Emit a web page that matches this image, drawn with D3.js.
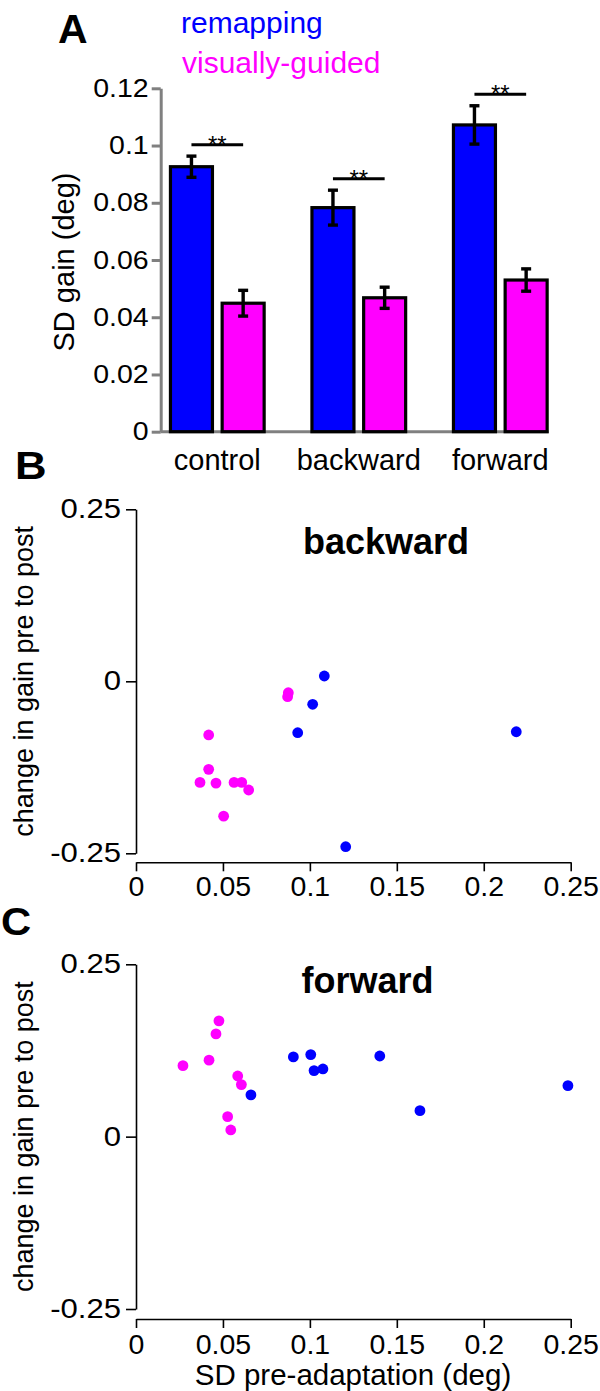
<!DOCTYPE html>
<html><head><meta charset="utf-8">
<script src="https://cdn.jsdelivr.net/npm/d3@7"></script>
<style>
html,body{margin:0;padding:0;background:#fff;}
svg{display:block;font-family:"Liberation Sans",Arial,Helvetica,sans-serif;}
</style></head>
<body>
<svg id="chart" width="600" height="1391"></svg>
<script>
// ---------- DATA ----------
const barCategories = ["control", "backward", "forward"];
const seriesNames = ["remapping", "visually-guided"];
const remapMean = [0.0926, 0.0783, 0.1072];
const remapErr = [0.0037, 0.0061, 0.0067];
const visualMean = [0.0449, 0.0468, 0.0530];
const visualErr = [0.0045, 0.0037, 0.0039];
const sigLabels = ["**", "**", "**"];
const barTicks = [0, 0.02, 0.04, 0.06, 0.08, 0.1, 0.12];

const scatterXTicks = [0, 0.05, 0.1, 0.15, 0.2, 0.25];
const scatterYTicks = [-0.25, 0, 0.25];

const backwardRemapX = [0.1083, 0.1016, 0.0930, 0.2187, 0.1206];
const backwardRemapY = [0.0077, -0.0334, -0.0747, -0.0733, -0.2404];
const backwardVisualX = [0.0876, 0.0872, 0.0418, 0.0418, 0.0368, 0.0460, 0.0564, 0.0608, 0.0648, 0.0504];
const backwardVisualY = [-0.0166, -0.0224, -0.0780, -0.1280, -0.1470, -0.1480, -0.1470, -0.1470, -0.1580, -0.1960];

const forwardRemapX = [0.0661, 0.0905, 0.1005, 0.1024, 0.1075, 0.1402, 0.1633, 0.2484];
const forwardRemapY = [0.0605, 0.1157, 0.1190, 0.0958, 0.0982, 0.1170, 0.0377, 0.0740];
const forwardVisualX = [0.0477, 0.0460, 0.0420, 0.0270, 0.0585, 0.0606, 0.0527, 0.0545];
const forwardVisualY = [0.1680, 0.1490, 0.1110, 0.1030, 0.0880, 0.0755, 0.0290, 0.0097];

// ---------- STYLE ----------
const BLUE = "#0000ff", MAG = "#ff00ff", GREY = "#808080";
const svg = d3.select("#chart");

function stretch(sel, f) {
  sel.each(function () {
    const L = this.getComputedTextLength();
    this.setAttribute("textLength", L * f);
    this.setAttribute("lengthAdjust", "spacingAndGlyphs");
  });
}
const fmt = d => (d === 0 ? "0" : String(d));

// ---------- PANEL A ----------
const yA = d3.scaleLinear().domain([0, 0.12]).range([431.7, 88.3]);
const xA = d3.scalePoint().domain(barCategories).range([217.3, 500.3]);
const xSub = d3.scaleBand().domain(seriesNames).range([-46.85, 46.85]).paddingInner(0.1876);
const axisXA = 160.7;

const barRows = barCategories.map((c, i) => ({
  cat: c,
  vals: [
    { s: seriesNames[0], v: remapMean[i], e: remapErr[i], color: BLUE },
    { s: seriesNames[1], v: visualMean[i], e: visualErr[i], color: MAG }
  ],
  sig: sigLabels[i]
}));

// y axis (grey)
const gAy = svg.append("g").attr("transform", `translate(${axisXA},0)`)
  .call(d3.axisLeft(yA).tickValues(barTicks).tickFormat(fmt).tickSize(9).tickPadding(3).tickSizeOuter(0));
gAy.select(".domain").attr("stroke", GREY).attr("stroke-width", 3);
gAy.selectAll(".tick line").attr("stroke", GREY).attr("stroke-width", 3);
gAy.selectAll(".tick text").attr("font-size", 25).attr("fill", "#000").style("font-family", "'Liberation Sans',Arial,sans-serif");
stretch(gAy.selectAll(".tick text"), 1.14);

// x baseline (grey)
svg.append("line")
  .attr("x1", axisXA).attr("x2", xA(barCategories[barCategories.length - 1]) + xSub.range()[1] + 1.5)
  .attr("y1", yA(0)).attr("y2", yA(0))
  .attr("stroke", GREY).attr("stroke-width", 3);

// bars
const groups = svg.append("g").selectAll("g").data(barRows).join("g")
  .attr("transform", d => `translate(${xA(d.cat)},0)`);
groups.selectAll("rect").data(d => d.vals).join("rect")
  .attr("x", d => xSub(d.s)).attr("width", xSub.bandwidth())
  .attr("y", d => yA(d.v)).attr("height", d => yA(0) - yA(d.v))
  .attr("fill", d => d.color).attr("stroke", "#000").attr("stroke-width", 3.2);

// error bars
const eb = groups.selectAll("g.err").data(d => d.vals).join("g").attr("class", "err")
  .attr("transform", d => `translate(${xSub(d.s) + xSub.bandwidth() / 2},0)`);
eb.append("line").attr("x1", 0).attr("x2", 0)
  .attr("y1", d => yA(d.v + d.e)).attr("y2", d => yA(d.v - d.e))
  .attr("stroke", "#000").attr("stroke-width", 3.4);
eb.append("line").attr("x1", -5).attr("x2", 5)
  .attr("y1", d => yA(d.v + d.e)).attr("y2", d => yA(d.v + d.e))
  .attr("stroke", "#000").attr("stroke-width", 3.4);
eb.append("line").attr("x1", -5).attr("x2", 5)
  .attr("y1", d => yA(d.v - d.e)).attr("y2", d => yA(d.v - d.e))
  .attr("stroke", "#000").attr("stroke-width", 3.4);

// significance lines
groups.each(function (d) {
  const g = d3.select(this);
  const top = d3.max(d.vals, v => v.v + v.e) + 0.004;
  const xa = xSub(d.vals[0].s) + xSub.bandwidth() / 2;
  const xb = xSub(d.vals[1].s) + xSub.bandwidth() / 2;
  g.append("line").attr("x1", xa).attr("x2", xb).attr("y1", yA(top)).attr("y2", yA(top))
    .attr("stroke", "#000").attr("stroke-width", 3);
  g.append("text").attr("x", (xa + xb) / 2).attr("y", yA(top) + 8)
    .attr("text-anchor", "middle").attr("font-size", 24).text(d.sig);
});

// category labels
svg.append("g").selectAll("text").data(barCategories).join("text")
  .attr("x", d => xA(d)).attr("y", 470).attr("text-anchor", "middle")
  .attr("font-size", 29).text(d => d);

// y label A
svg.append("text").attr("transform", `translate(74,${(yA(0) + yA(0.12)) / 2 + 2}) rotate(-90)`)
  .attr("text-anchor", "middle").attr("font-size", 29).text("SD gain (deg)");

// legend
svg.append("text").attr("x", 181).attr("y", 33).attr("font-size", 30).attr("fill", BLUE).text(seriesNames[0]);
svg.append("text").attr("x", 182).attr("y", 73).attr("font-size", 30).attr("fill", MAG).text(seriesNames[1]);

// panel letters
svg.append("text").attr("x", 58).attr("y", 43).attr("font-size", 41).attr("font-weight", "bold").text("A");
const tB = svg.append("text").attr("x", 15).attr("y", 479).attr("font-size", 38).attr("font-weight", "bold").text("B");
const tC = svg.append("text").attr("x", 1).attr("y", 935).attr("font-size", 38).attr("font-weight", "bold").text("C");
stretch(tB, 1.15); stretch(tC, 1.1);

// ---------- SCATTER PANELS ----------
function scatter(cfg) {
  const x = d3.scaleLinear().domain([0, 0.25]).range([136, 570.7]);
  const y = d3.scaleLinear().domain([-0.25, 0.25]).range([cfg.yBottom, cfg.yTop]);
  const gy = svg.append("g").attr("transform", `translate(${x(0)},0)`)
    .call(d3.axisLeft(y).tickValues(scatterYTicks).tickFormat(fmt).tickSize(10).tickPadding(5).tickSizeOuter(0));
  gy.selectAll("path,line").attr("stroke", "#000").attr("stroke-width", 1.6);
  gy.selectAll(".tick text").attr("font-size", 27).attr("fill", "#000").style("font-family", "'Liberation Sans',Arial,sans-serif");
  stretch(gy.selectAll(".tick text"), 1.15);

  const gx = svg.append("g").attr("transform", `translate(0,${cfg.xAxisY})`)
    .call(d3.axisBottom(x).tickValues(scatterXTicks).tickFormat(fmt).tickSize(9).tickPadding(cfg.xPad).tickSizeOuter(0));
  gx.selectAll("path,line").attr("stroke", "#000").attr("stroke-width", 1.6);
  gx.selectAll(".tick text").attr("font-size", 28.5).attr("fill", "#000").style("font-family", "'Liberation Sans',Arial,sans-serif");

  const visual = cfg.vx.map((v, i) => ({ x: v, y: cfg.vy[i], c: MAG }));
  const remap = cfg.rx.map((v, i) => ({ x: v, y: cfg.ry[i], c: BLUE }));
  svg.append("g").selectAll("circle").data(visual.concat(remap)).join("circle")
    .attr("cx", d => x(d.x)).attr("cy", d => y(d.y)).attr("r", 5.4).attr("fill", d => d.c);

  svg.append("text").attr("x", cfg.titleX).attr("y", cfg.titleY).attr("text-anchor", "middle")
    .attr("font-size", 36).attr("font-weight", "bold").text(cfg.title);

  svg.append("text").attr("transform", `translate(33,${y(0)}) rotate(-90)`)
    .attr("text-anchor", "middle").attr("font-size", 27).text("change in gain pre to post");
  return x;
}

scatter({ title: "backward", yTop: 509.3, yBottom: 853.3, xAxisY: 862.3, xPad: 4.8,
  titleX: 386, titleY: 554, rx: backwardRemapX, ry: backwardRemapY, vx: backwardVisualX, vy: backwardVisualY });
scatter({ title: "forward", yTop: 964.3, yBottom: 1309, xAxisY: 1319, xPad: 5.5,
  titleX: 367.5, titleY: 993, rx: forwardRemapX, ry: forwardRemapY, vx: forwardVisualX, vy: forwardVisualY });

svg.append("text").attr("x", 353).attr("y", 1385).attr("text-anchor", "middle")
  .attr("font-size", 29.5).text("SD pre-adaptation (deg)");
</script>
</body></html>
